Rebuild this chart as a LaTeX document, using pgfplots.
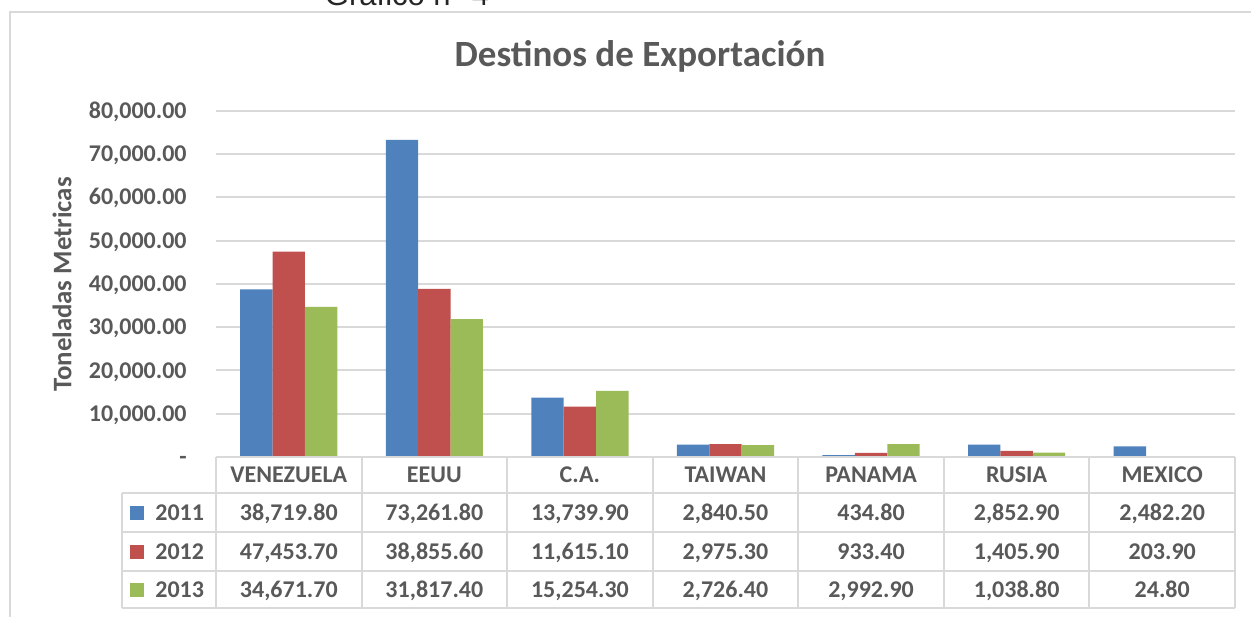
\documentclass[border=0pt]{standalone}
\usepackage{pgfplots}
\pgfplotsset{compat=1.18}
\usepackage{fontspec}
\setmainfont{Carlito}
\newfontfamily\arialfont{Liberation Sans}
\definecolor{txt}{HTML}{595959}
\definecolor{gridc}{HTML}{D9D9D9}
\definecolor{c11}{HTML}{4F81BD}
\definecolor{c12}{HTML}{C0504D}
\definecolor{c13}{HTML}{9BBB59}
\begin{document}
\begin{tikzpicture}
\useasboundingbox (0,0) rectangle (625.5pt,-308pt);
\begin{scope}[x=0.5pt,y=-0.5pt]
 \draw[gridc, line width=1pt] (10,700) -- (10,12) -- (1300,12);
 \node[anchor=base, font=\arialfont\fontsize{15.5}{18}\selectfont, text=black!85] at (407,5) {Gráfico n° 4};
 \node[font=\bfseries\fontsize{18.5}{22}\selectfont, text=txt] at (640,56) {Destinos de Exportación};
 \node[rotate=90, font=\bfseries\fontsize{13.4}{16}\selectfont, text=txt] at (62,284.5) {Toneladas Metricas};
\end{scope}
\begin{axis}[at={(108pt,-228.5pt)}, anchor=south west, scale only axis,
  width=509.5pt, height=173.2pt,
  xmin=-0.5, xmax=6.5, ymin=0, ymax=80000,
  axis line style={draw=none}, xtick=\empty, scaled y ticks=false,
  ytick={0,10000,20000,30000,40000,50000,60000,70000,80000},
  yticklabels={{-\hspace{5pt}},{10,000.00},{20,000.00},{30,000.00},{40,000.00},{50,000.00},{60,000.00},{70,000.00},{80,000.00}},
  ymajorgrids, grid style={gridc, line width=1pt}, major tick length=0pt,
  yticklabel style={font=\bfseries\fontsize{12}{14}\selectfont, text=txt, anchor=east, inner sep=0pt, xshift=-14.5pt, text height=7.7pt, text depth=0pt},
  ybar=0pt, bar width=0.2225, clip=false]
\addplot[fill=c11, draw=none] coordinates {(0,38719.80) (1,73261.80) (2,13739.90) (3,2840.50) (4,434.80) (5,2852.90) (6,2482.20)};
\addplot[fill=c12, draw=none] coordinates {(0,47453.70) (1,38855.60) (2,11615.10) (3,2975.30) (4,933.40) (5,1405.90) (6,203.90)};
\addplot[fill=c13, draw=none] coordinates {(0,34671.70) (1,31817.40) (2,15254.30) (3,2726.40) (4,2992.90) (5,1038.80) (6,24.80)};
\end{axis}
\begin{scope}[x=0.5pt,y=-0.5pt, every node/.style={font=\bfseries\fontsize{12}{14}\selectfont, text=txt, text height=7.7pt, text depth=0pt, inner sep=0pt}]
 \draw[gridc, line width=1pt] (216,457) -- (1235,457);
 \foreach \yy in {493,532,571,608} \draw[gridc, line width=1pt] (122,\yy) -- (1235,\yy);
 \draw[gridc, line width=1pt] (122,493) -- (122,608);
 \foreach \k in {0,...,7} \draw[gridc, line width=1pt] ({216+145.571*\k},457) -- ({216+145.571*\k},608);
 \foreach \name [count=\i from 0] in {VENEZUELA,EEUU,C.A.,TAIWAN,PANAMA,RUSIA,MEXICO}
   \node at ({216+145.571*(\i+0.5)},475) {\name};
 \foreach \v [count=\i from 0] in {38{,}719.80,73{,}261.80,13{,}739.90,2{,}840.50,434.80,2{,}852.90,2{,}482.20}
   \node at ({216+145.571*(\i+0.5)},512.5) {\v};
 \foreach \v [count=\i from 0] in {47{,}453.70,38{,}855.60,11{,}615.10,2{,}975.30,933.40,1{,}405.90,203.90}
   \node at ({216+145.571*(\i+0.5)},551.5) {\v};
 \foreach \v [count=\i from 0] in {34{,}671.70,31{,}817.40,15{,}254.30,2{,}726.40,2{,}992.90,1{,}038.80,24.80}
   \node at ({216+145.571*(\i+0.5)},589.5) {\v};
 \fill[c11] (130,505.5) rectangle (144,519.5);
 \fill[c12] (130,544.5) rectangle (144,558.5);
 \fill[c13] (130,582.5) rectangle (144,596.5);
 \node[anchor=west] at (155,512.5) {2011};
 \node[anchor=west] at (155,551.5) {2012};
 \node[anchor=west] at (155,589.5) {2013};
\end{scope}
\end{tikzpicture}
\end{document}
